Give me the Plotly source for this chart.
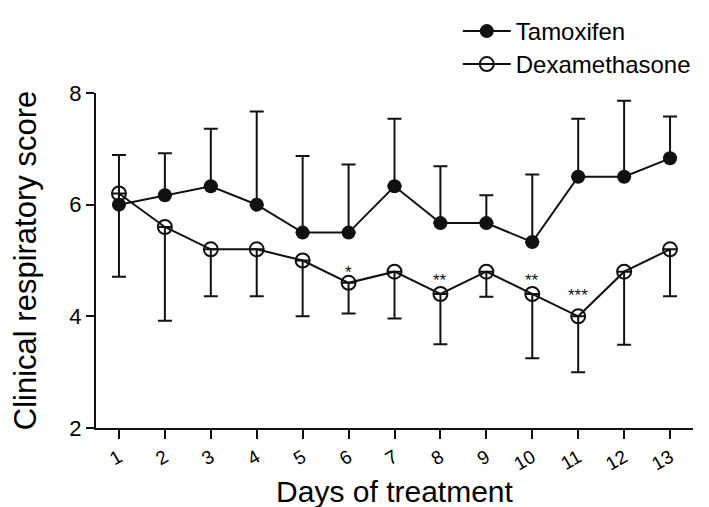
import plotly.graph_objects as go

days = list(range(1, 14))
day_labels = [str(d) for d in days]

tam_mean = [6.0, 6.17, 6.33, 6.0, 5.5, 5.5, 6.33, 5.67, 5.67, 5.33, 6.5, 6.5, 6.83]
tam_sd = [0.89, 0.75, 1.03, 1.67, 1.37, 1.22, 1.21, 1.02, 0.5, 1.21, 1.04, 1.36, 0.75]

dex_mean = [6.2, 5.6, 5.2, 5.2, 5.0, 4.6, 4.8, 4.4, 4.8, 4.4, 4.0, 4.8, 5.2]
dex_sd = [1.49, 1.68, 0.84, 0.84, 1.0, 0.55, 0.84, 0.9, 0.45, 1.15, 1.0, 1.31, 0.84]

sig_days = [6, 8, 10, 11]
sig_labels = ["*", "**", "**", "***"]
sig_y = [4.87, 4.74, 4.74, 4.47]

FONT = "Liberation Sans, Arial, sans-serif"
INK = "#111111"

fig = go.Figure()

fig.add_trace(go.Scatter(
    x=days, y=dex_mean, name="Dexamethasone", mode="lines+markers",
    line=dict(color=INK, width=2),
    marker=dict(symbol="circle-open", size=14, color=INK, line=dict(width=2, color=INK)),
    error_y=dict(type="data", symmetric=False, array=[0] * len(dex_sd), arrayminus=dex_sd,
                 color=INK, thickness=2, width=7),
    legend="legend2",
))

fig.add_trace(go.Scatter(
    x=days, y=tam_mean, name="Tamoxifen", mode="lines+markers",
    line=dict(color=INK, width=2),
    marker=dict(symbol="circle", size=14, color=INK),
    error_y=dict(type="data", symmetric=False, array=tam_sd, arrayminus=[0] * len(tam_sd),
                 color=INK, thickness=2, width=7),
    legend="legend",
))

for d, lab, yy in zip(sig_days, sig_labels, sig_y):
    fig.add_annotation(x=d, y=yy, text=lab, showarrow=False, yanchor="middle",
                       yshift=-5, font=dict(family=FONT, size=17, color=INK))

legend_common = dict(font=dict(family=FONT, size=24, color="#000000"),
                     bgcolor="rgba(0,0,0,0)", itemwidth=48,
                     xanchor="left", yanchor="top", borderwidth=0)

fig.update_layout(
    width=709, height=507,
    margin=dict(l=88, r=24, t=85, b=87, autoexpand=False),
    paper_bgcolor="white", plot_bgcolor="white",
    font=dict(family=FONT, color="#000000"),
    legend=dict(x=0.606, y=1.2507, **legend_common),
    legend2=dict(x=0.606, y=1.1522, **legend_common),
    xaxis=dict(
        range=[0.5, 13.5], tickmode="array", tickvals=days, ticktext=day_labels,
        tickangle=-30, ticks="outside", ticklen=9, tickwidth=2, tickcolor=INK,
        showline=True, linecolor=INK, linewidth=2, showgrid=False, zeroline=False,
        tickfont=dict(family=FONT, size=19, color="#000000"),
        title=dict(text="Days of treatment", font=dict(family=FONT, size=30, color="#000000"),
                   standoff=3),
        automargin=False,
    ),
    yaxis=dict(
        range=[2, 8], tickvals=[2, 4, 6, 8], ticks="outside", ticklen=8, tickwidth=2,
        tickcolor=INK, showline=True, linecolor=INK, linewidth=2, showgrid=False,
        zeroline=False, tickfont=dict(family=FONT, size=22, color="#000000"),
        title=dict(text="Clinical respiratory score",
                   font=dict(family=FONT, size=31, color="#000000"), standoff=26),
        automargin=False,
    ),
    showlegend=True,
)

fig.write_html("out.html")
